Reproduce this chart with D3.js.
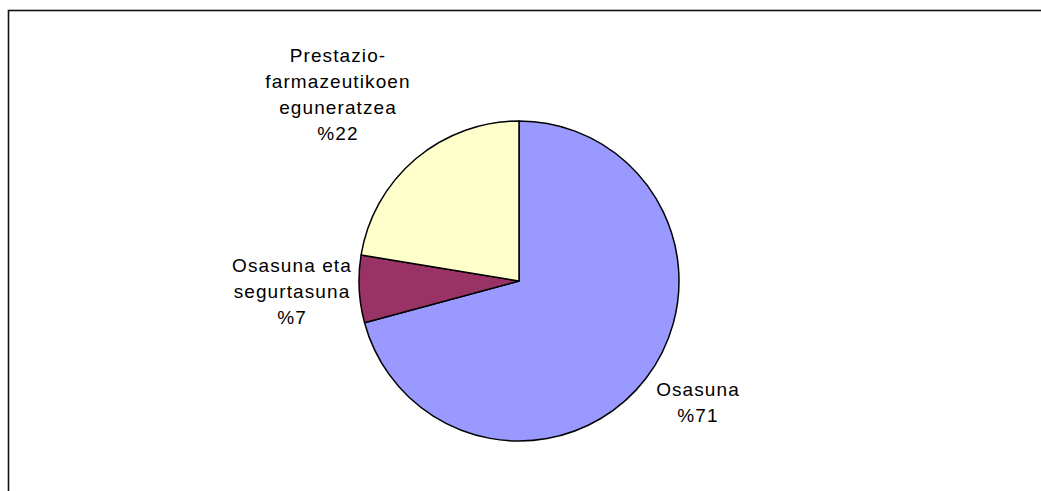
<!DOCTYPE html>
<html>
<head>
<meta charset="utf-8">
<script src="https://cdn.jsdelivr.net/npm/d3@7"></script>
<style>
    body { margin: 0; background: #fff; }
    text { font-family: "Liberation Sans", Arial, sans-serif; }
</style>
</head>
<body>
<div id="wrapper"></div>
<script>
// slices go clockwise from 12 o'clock
const categories = ["Osasuna", "Osasuna eta segurtasuna", "Prestazio-farmazeutikoen eguneratzea"];
const values = [70.8, 6.8, 22.4];
const labelLines = [
    ["Osasuna"],
    ["Osasuna eta", "segurtasuna"],
    ["Prestazio-", "farmazeutikoen", "eguneratzea"]
];
const colors = ["#9999FF", "#993366", "#FFFFCC"];

function buildPlot() {
    var dimension = {
        width: 1041,
        height: 491,
        cx: 519,
        cy: 281,
        radius: 160
    };

    const data = categories.map((c, i) => ({ name: c, value: values[i], lines: labelLines[i] }));

    const svg = d3.select("#wrapper").append("svg")
        .attr("width", dimension.width)
        .attr("height", dimension.height);

    // chart area frame (runs off the right and bottom)
    svg.append("rect")
        .attr("x", 8.5)
        .attr("y", 10.5)
        .attr("width", 1200)
        .attr("height", 600)
        .attr("fill", "none")
        .attr("stroke", "#111")
        .attr("stroke-width", 1.6);

    const pie = d3.pie().sort(null).value(d => d.value);
    const arc = d3.arc().innerRadius(0).outerRadius(dimension.radius);
    const color = d3.scaleOrdinal().domain(categories).range(colors);

    const g = svg.append("g")
        .attr("transform", `translate(${dimension.cx},${dimension.cy})`);

    const arcs = pie(data);

    g.selectAll("path")
        .data(arcs)
        .join("path")
        .attr("d", arc)
        .attr("fill", d => color(d.data.name))
        .attr("stroke", "#000")
        .attr("stroke-width", 1.5)
        .attr("stroke-linejoin", "round");

    // label anchor: first line baseline offset from pie centre
    const labelPos = [
        { x: 179, y: 115 },
        { x: -227, y: -9 },
        { x: -181, y: -219 }
    ];
    const lineH = 26;

    const labels = g.selectAll("text.lbl")
        .data(arcs)
        .join("text")
        .attr("class", "lbl")
        .attr("text-anchor", "middle")
        .attr("font-size", 19)
        .attr("letter-spacing", 1.1)
        .attr("fill", "#000");

    labels.each(function(d, i) {
        const t = d3.select(this);
        const lines = d.data.lines.concat(["%" + Math.round(d.data.value)]);
        lines.forEach((s, k) => {
            t.append("tspan")
                .attr("x", labelPos[i].x)
                .attr("y", labelPos[i].y + k * lineH)
                .text(s);
        });
    });
}

buildPlot();
</script>
</body>
</html>
